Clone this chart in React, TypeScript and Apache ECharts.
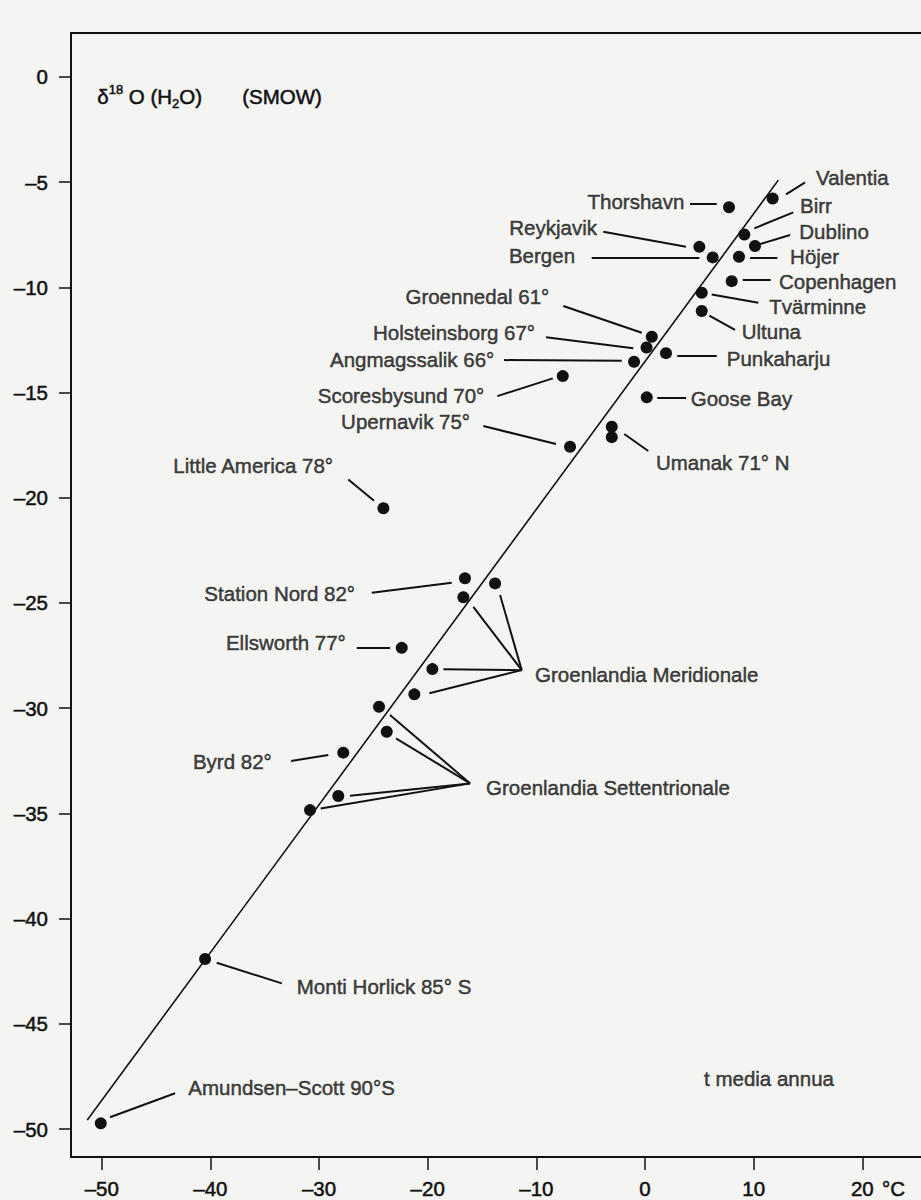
import React, { useEffect, useRef } from "react";
import * as echarts from "echarts";

// Axis ticks
const xTicks = [-50, -40, -30, -20, -10, 0, 10, 20];
const yTicks = [0, -5, -10, -15, -20, -25, -30, -35, -40, -45, -50];

// Stations: mean annual temperature (°C) and δ18O (‰ SMOW)
const pointNames = [
  "Valentia", "Thorshavn", "Birr", "Reykjavik", "Dublino", "Bergen", "Höjer",
  "Copenhagen", "Tvärminne", "Ultuna", "Groennedal", "Holsteinsborg", "Punkaharju",
  "Angmagssalik", "Scoresbysund", "Goose Bay", "Umanak a", "Umanak b", "Upernavik",
  "Little America", "Station Nord", "Groenlandia M. a", "Groenlandia M. b", "Ellsworth",
  "Groenlandia M. c", "Groenlandia M. d", "Groenlandia S. a", "Groenlandia S. b", "Byrd",
  "Groenlandia S. c", "Groenlandia S. d", "Monti Horlick", "Amundsen-Scott",
];
const pointT = [
  11.75, 7.73, 9.14, 5.0, 10.12, 6.23, 8.65,
  7.98, 5.22, 5.22, 0.62, 0.14, 1.93,
  -1.01, -7.57, 0.16, -3.06, -3.06, -6.9,
  -24.08, -16.57, -13.8, -16.72, -22.39,
  -19.57, -21.23, -24.48, -23.77, -27.77,
  -28.23, -30.83, -40.49, -50.09,
];
const pointD = [
  -5.78, -6.2, -7.49, -8.08, -8.04, -8.58, -8.55,
  -9.71, -10.26, -11.13, -12.35, -12.86, -13.13,
  -13.54, -14.22, -15.23, -16.63, -17.12, -17.58,
  -20.5, -23.83, -24.07, -24.73, -27.13,
  -28.14, -29.34, -29.93, -31.12, -32.11,
  -34.17, -34.84, -41.91, -49.72,
];

// Regression line end points
const fitT = [-51.33, 12.27];
const fitD = [-49.56, -4.91];

// Labels (anchor in data units) and which side of the anchor the text sits
const labelTexts = [
  "Valentia", "Thorshavn", "Birr", "Reykjavik", "Dublino", "Bergen", "Höjer",
  "Copenhagen", "Tvärminne", "Ultuna", "Groennedal 61°", "Holsteinsborg 67°",
  "Punkaharju", "Angmagssalik 66°", "Scoresbysund 70°", "Goose Bay",
  "Umanak 71° N", "Upernavik 75°", "Little America 78°", "Station Nord 82°",
  "Ellsworth 77°", "Groenlandia Meridionale", "Groenlandia Settentrionale",
  "Byrd 82°", "Monti Horlick 85° S", "Amundsen–Scott 90°S", "t media annua",
];
const labelT = [
  15.74, 3.62, 14.27, -4.42, 14.2, -6.44, 13.35,
  12.33, 11.44, 8.9, -8.81, -10.12,
  7.52, -13.87, -14.79, 4.21,
  1.01, -16.1, -28.71, -26.69,
  -27.54, -10.12, -14.63,
  -34.35, -32.05, -42.03, 5.43,
];
const labelD = [
  -4.78, -5.91, -6.1, -7.14, -7.33, -8.47, -8.52,
  -9.74, -10.89, -12.11, -10.45, -12.16,
  -13.38, -13.43, -15.12, -15.28,
  -18.34, -16.39, -18.49, -24.54,
  -26.87, -28.42, -33.78,
  -32.54, -43.23, -48.03, -47.57,
];
const labelSide = [
  "right", "left", "right", "left", "right", "left", "right",
  "right", "right", "right", "left", "left",
  "right", "left", "left", "right",
  "right", "left", "left", "left",
  "left", "right", "right",
  "left", "right", "right", "right",
];

// Leader lines: [t1, d1, t2, d2]
const leaders = [
  [12.98, -5.59, 14.73, -5.02],
  [4.14, -6.01, 6.6, -6.01],
  [10.06, -7.2, 13.65, -6.44],
  [-3.84, -7.36, 3.77, -8.08],
  [10.58, -7.95, 13.35, -7.52],
  [-4.91, -8.58, 5.0, -8.58],
  [9.66, -8.58, 12.18, -8.58],
  [8.99, -9.66, 11.57, -9.66],
  [6.14, -10.34, 10.43, -10.74],
  [5.92, -11.35, 8.28, -12.03],
  [2.97, -13.27, 6.6, -13.27],
  [1.13, -15.23, 3.77, -15.23],
  [-1.91, -16.97, 0.3, -17.78],
  [-7.52, -10.89, -0.3, -12.16],
  [-9.11, -12.38, -1.08, -12.9],
  [-12.98, -13.46, -2.14, -13.49],
  [-13.59, -15.17, -8.49, -14.33],
  [-14.88, -16.59, -8.19, -17.45],
  [-27.31, -19.13, -24.94, -20.14],
  [-25.15, -24.51, -17.79, -24.04],
  [-26.53, -27.11, -23.47, -27.11],
  [-32.58, -32.51, -29.15, -32.22],
  [-11.35, -28.19, -13.34, -24.62],
  [-11.35, -28.19, -15.8, -25.18],
  [-11.35, -28.19, -18.56, -28.15],
  [-11.35, -28.19, -19.85, -29.29],
  [-16.1, -33.57, -23.47, -30.32],
  [-16.1, -33.57, -22.92, -31.43],
  [-16.1, -33.57, -27.15, -34.16],
  [-16.1, -33.57, -29.85, -34.76],
  [-39.42, -42.09, -33.43, -43.07],
  [-49.24, -49.43, -43.25, -48.29],
];

const INK = "#111111";
const FONT = "'Liberation Sans', Arial, Helvetica, sans-serif";
const FS = 20.5;
const STROKE = { textBorderColor: INK, textBorderWidth: 0.5 };
const GSTROKE = { stroke: INK, lineWidth: 0.5 };

const fmt = (v: number) => (v < 0 ? "–" + Math.abs(v) : String(v));

export default function App() {
  const ref = useRef<HTMLDivElement>(null);

  useEffect(() => {
    if (!ref.current) return;
    const chart = echarts.init(ref.current, undefined, { renderer: "svg" });

    const labelSeries = (side: string) => ({
      type: "scatter",
      symbolSize: 0,
      silent: true,
      z: 5,
      data: labelTexts
        .map((n, i) => ({ name: n, value: [labelT[i], labelD[i]], side: labelSide[i] }))
        .filter((d) => d.side === side)
        .map((d) => ({ name: d.name, value: d.value })),
      label: {
        show: true,
        position: side,
        distance: 0,
        formatter: (p: any) => p.name,
        color: INK,
        fontSize: FS,
        fontFamily: FONT,
        ...STROKE,
      },
    });

    chart.setOption({
      animation: false,
      backgroundColor: "#f4f4f2",
      grid: { left: 71, top: 33, right: 0, bottom: 43, containLabel: false },
      xAxis: [
        {
          type: "value",
          min: -52.83,
          max: 25.4,
          position: "bottom",
          splitLine: { show: false },
          axisLine: { show: true, onZero: false, lineStyle: { color: INK, width: 2 } },
          axisTick: { show: true, length: 13, customValues: xTicks, lineStyle: { color: INK, width: 1.5 } },
          axisLabel: {
            customValues: xTicks,
            formatter: fmt,
            margin: 21,
            color: INK,
            fontSize: FS,
            fontFamily: FONT,
            ...STROKE,
          },
        },
        {
          type: "value",
          min: -52.83,
          max: 25.4,
          position: "top",
          splitLine: { show: false },
          axisLine: { show: true, onZero: false, lineStyle: { color: INK, width: 2 } },
          axisTick: { show: false },
          axisLabel: { show: false },
        },
      ],
      yAxis: {
        type: "value",
        min: -51.32,
        max: 2.08,
        splitLine: { show: false },
        axisLine: { show: true, onZero: false, lineStyle: { color: INK, width: 2 } },
        axisTick: { show: true, length: 12, customValues: yTicks, lineStyle: { color: INK, width: 1.5 } },
        axisLabel: {
          customValues: yTicks,
          formatter: fmt,
          margin: 23,
          color: INK,
          fontSize: FS,
          fontFamily: FONT,
          ...STROKE,
        },
      },
      series: [
        {
          type: "line",
          xAxisIndex: 0,
          symbol: "none",
          silent: true,
          data: fitT.map((t, i) => [t, fitD[i]]),
          lineStyle: { color: INK, width: 1.6 },
          z: 2,
        },
        {
          type: "lines",
          coordinateSystem: "cartesian2d",
          xAxisIndex: 0,
          silent: true,
          lineStyle: { color: INK, width: 2, opacity: 1 },
          data: leaders.map((l) => ({ coords: [[l[0], l[1]], [l[2], l[3]]] })),
          z: 3,
        },
        {
          type: "scatter",
          xAxisIndex: 0,
          symbol: "circle",
          symbolSize: 12,
          silent: true,
          itemStyle: { color: INK, opacity: 1 },
          data: pointNames.map((n, i) => ({ name: n, value: [pointT[i], pointD[i]] })),
          z: 4,
        },
        labelSeries("left"),
        labelSeries("right"),
      ],
      graphic: [
        {
          type: "text",
          left: 97,
          top: 80,
          style: {
            text: "{d|δ}{s|18}{n| O (H}{b|2}{n|O)}",
            fill: INK,
            ...GSTROKE,
            rich: {
              d: { fontSize: FS, fontFamily: FONT, lineHeight: 32, verticalAlign: "middle" },
              n: { fontSize: FS, fontFamily: FONT, lineHeight: 32, verticalAlign: "middle" },
              s: { fontSize: 13, fontFamily: FONT, lineHeight: 32, verticalAlign: "top", padding: [3, 0, 0, 0] },
              b: { fontSize: 13, fontFamily: FONT, lineHeight: 32, verticalAlign: "bottom", padding: [0, 0, 2, 0] },
            },
          },
        },
        {
          type: "text",
          left: 242,
          top: 86,
          style: { text: "(SMOW)", fill: INK, fontSize: FS, fontFamily: FONT, ...GSTROKE },
        },
        {
          type: "text",
          style: {
            x: 882,
            y: 1188,
            verticalAlign: "middle",
            lineHeight: 20,
            text: "°C",
            fill: INK,
            fontSize: FS,
            fontFamily: FONT,
            ...GSTROKE,
          },
        },
      ],
    });

    return () => chart.dispose();
  }, []);

  return (
    <div
      ref={ref}
      style={{ position: "absolute", left: 0, top: 0, width: 921, height: 1200 }}
    />
  );
}
